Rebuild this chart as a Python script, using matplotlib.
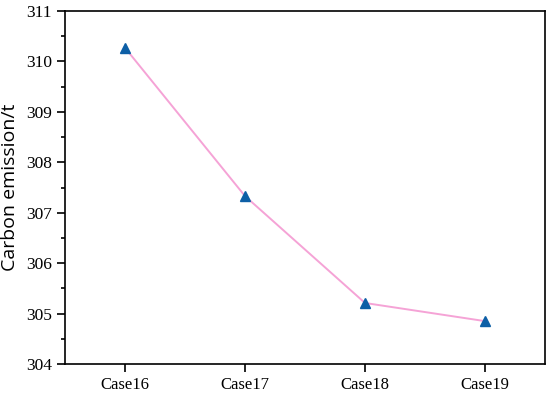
import matplotlib.pyplot as plt
from matplotlib.ticker import MultipleLocator

cases = ['Case16', 'Case17', 'Case18', 'Case19']
emission = [310.27, 307.33, 305.21, 304.85]

fig = plt.figure(figsize=(5.5, 3.93), dpi=100)
ax = fig.add_axes([65 / 550, 1 - 364 / 393, 480 / 550, 353 / 393])

x = list(range(len(cases)))
ax.plot(x, emission, color='#f5a3d6', lw=1.4, zorder=2)
ax.plot(x, emission, ls='none', marker='^', ms=7.5, color='#0d5fa6', zorder=3)

ax.set_xlim(-0.5, 3.5)
ax.set_ylim(304, 311)
ax.set_xticks(x)
ax.set_xticklabels(cases, family='Liberation Serif', fontsize=12)
ax.yaxis.set_major_locator(MultipleLocator(1))
ax.yaxis.set_minor_locator(MultipleLocator(0.5))
for lab in ax.get_yticklabels():
    lab.set_family('Liberation Serif')
    lab.set_fontsize(12.5)

ax.tick_params(axis='both', which='major', direction='out', length=6, width=1.2)
ax.tick_params(axis='y', which='minor', direction='out', length=3, width=1.2)
ax.tick_params(axis='x', which='minor', bottom=False)
for s in ax.spines.values():
    s.set_linewidth(1.2)

ax.set_ylabel('Carbon emission/t', family='Open Sans', fontsize=14, labelpad=5)

fig.savefig('out.png', dpi=100)
